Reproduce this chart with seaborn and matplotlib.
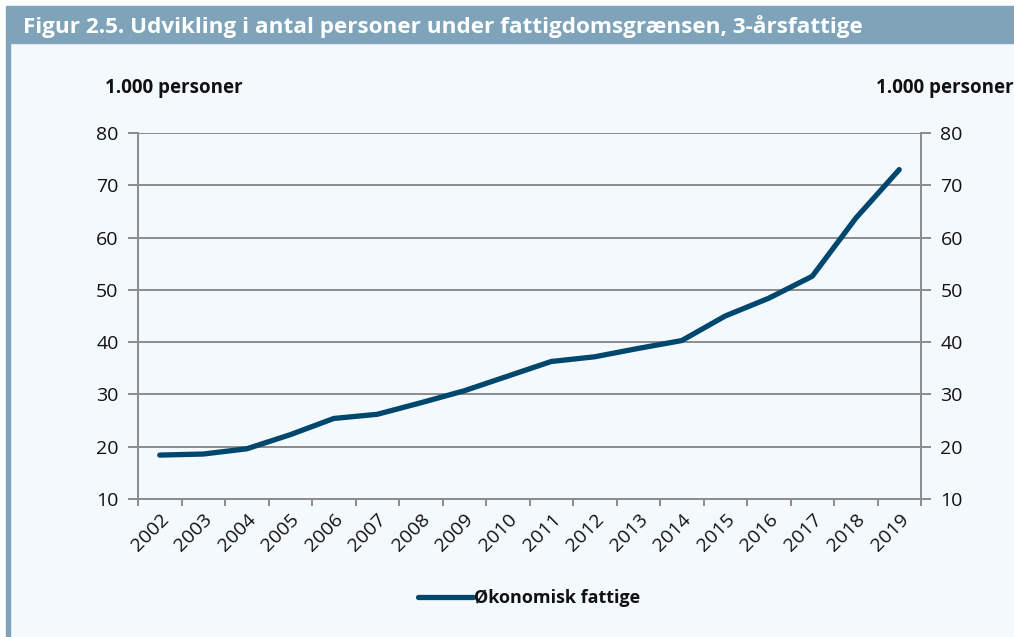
import pandas as pd
import matplotlib.pyplot as plt
import matplotlib.patches as patches
import seaborn as sns

# Data (1.000 personer)
years = [str(y) for y in range(2002, 2020)]
fattige = [18.4, 18.6, 19.6, 22.3, 25.4, 26.2, 28.4, 30.7, 33.5,
           36.3, 37.2, 38.8, 40.3, 45.0, 48.4, 52.6, 63.7, 73.0]
y_ticks = [10, 20, 30, 40, 50, 60, 70, 80]

title = "Figur 2.5. Udvikling i antal personer under fattigdomsgrænsen, 3-årsfattige"
unit = "1.000 personer"
series_name = "Økonomisk fattige"

BG = "#f4f9fd"
BAND = "#7fa3b8"
LINE = "#00476e"
GRID = "#8c8c8c"
TXT = "#111111"

sns.set_theme(style="white")
plt.rcParams['font.family'] = ['Open Sans', 'DejaVu Sans']
plt.rcParams['text.color'] = TXT

df = pd.DataFrame({"x": range(len(years)), "value": fattige})

W, H = 1014, 637
fig = plt.figure(figsize=(W / 100, H / 100), dpi=100, facecolor="white")
# light panel + title band + left strip
fig.patches.append(patches.Rectangle((6 / W, 0), 1 - 6 / W, 1 - 43 / H,
                                     transform=fig.transFigure, color=BG, zorder=-2))
fig.patches.append(patches.Rectangle((6 / W, 1 - 43 / H), 1 - 6 / W, 37 / H,
                                     transform=fig.transFigure, color=BAND, zorder=-2))
fig.patches.append(patches.Rectangle((6 / W, 0), 4 / W, 1 - 43 / H,
                                     transform=fig.transFigure, color=BAND, zorder=-2))

ax = fig.add_axes([138 / W, 1 - 499 / H, (921 - 138) / W, (499 - 133) / H])
ax.set_zorder(2)
ax.set_facecolor(BG)

sns.lineplot(data=df, x="x", y="value", ax=ax, color=LINE, linewidth=3.8,
             solid_capstyle="round", solid_joinstyle="round", label=series_name,
             zorder=3)

ax.set_xlim(-0.5, len(years) - 0.5)
ax.set_ylim(10, 80)
ax.set_yticks(y_ticks)
ax.yaxis.grid(True, color=GRID, linewidth=1.4)
ax.xaxis.grid(False)

# x: ticks at category boundaries, labels at centres
ax.set_xticks([i - 0.5 for i in range(len(years) + 1)])
ax.set_xticklabels([])
ax.set_xticks(range(len(years)), minor=True)
ax.set_xticklabels(years, minor=True, rotation=45, ha="right",
                   rotation_mode="anchor", fontsize=14)
ax.tick_params(axis="x", which="major", direction="out", length=5, width=1.4,
               color=GRID, bottom=True)
ax.tick_params(axis="x", which="minor", length=0, pad=8, labelcolor=TXT)
ax.tick_params(axis="y", direction="out", length=7, width=1.4, color=GRID,
               left=True, right=True, labelleft=True, labelright=True,
               labelsize=14, pad=7, labelcolor=TXT)

for side in ["left", "right", "bottom"]:
    ax.spines[side].set_color(GRID)
    ax.spines[side].set_linewidth(1.4)
ax.spines["top"].set_visible(False)

ax.set_xlabel("")
ax.set_ylabel("")

leg = ax.legend(loc="center", bbox_to_anchor=(0.5, -0.27), frameon=False,
                handlelength=3.0, handletextpad=0.1,
                prop={"weight": "bold", "size": 13})

fig.text(23 / W, 1 - 27 / H, title, color="white", fontsize=16.2,
         fontweight="bold", va="center", ha="left")
fig.text(105 / W, 1 - 88 / H, unit, fontsize=13.5, fontweight="bold",
         va="center", ha="left")
fig.text(1014 / W, 1 - 88 / H, unit, fontsize=13.5, fontweight="bold",
         va="center", ha="right")

fig.savefig("out.png", dpi=100, facecolor="white")
